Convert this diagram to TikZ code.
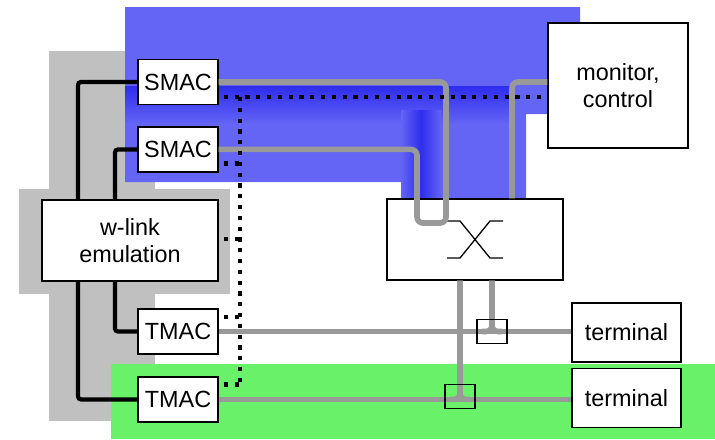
\documentclass[tikz,border=0pt]{standalone}
\usepackage{fontspec}
\setmainfont{Liberation Sans}
\usetikzlibrary{positioning, calc}

\definecolor{cellblue}{RGB}{100,100,245}
\definecolor{glowblue}{RGB}{45,45,238}
\definecolor{fieldgreen}{RGB}{105,242,105}
\definecolor{shadegray}{RGB}{192,192,192}
\definecolor{wiregray}{RGB}{153,153,153}

\begin{document}
\begin{tikzpicture}[
    x=0.5pt, y=-0.5pt,
    font=\fontsize{11.7}{13.6}\selectfont,
    box/.style={rectangle, draw, fill=white, line width=0.7pt, inner sep=0pt, align=center},
    mac/.style={box, minimum width=40pt, minimum height=22.5pt},
    term/.style={box, minimum width=54.5pt, minimum height=29.5pt},
    joint/.style={rectangle, draw, line width=0.65pt, minimum width=15pt, minimum height=12pt, inner sep=0pt},
    wire/.style={wiregray, line width=2.8pt, rounded corners=3pt},
    link/.style={line width=2.1pt, rounded corners=1.5pt},
    ctrl/.style={line width=2.1pt, dash pattern=on 2.1pt off 3.3pt}
]
    \useasboundingbox (0,0) rectangle (715,439);

    % Areas
    \fill[shadegray] (49,51) rectangle (155,421);
    \fill[shadegray] (19,189) rectangle (230,294);
    \fill[cellblue] (125,7) -- (580,7) -- (580,114) -- (526,114) -- (526,199)
        -- (401,199) -- (401,182) -- (125,182) -- cycle;
    \shade[top color=glowblue, bottom color=cellblue] (125,86) rectangle (512,124);
    \shade[left color=cellblue, right color=cellblue, middle color=glowblue] (401,110) rectangle (441,198);
    \fill[fieldgreen] (111,364) rectangle (715,439);

    % Boxes
    \node[mac] (smac1) at (178,82) {SMAC};
    \node[mac, below=10.5pt of smac1] (smac2) {SMAC};
    \node[box, minimum width=88pt, minimum height=40.5pt] (wlink) at (130,240.5) {w-link\\emulation};
    \node[mac] (tmac1) at (178,331.5) {TMAC};
    \node[mac, below=10.75pt of tmac1] (tmac2) {TMAC};
    \node[box, minimum width=70pt, minimum height=62.5pt] (monitor) at (618,85.5) {monitor,\\control};
    \node[box, minimum width=88pt, minimum height=40.5pt] (switch) at (475,239.5) {};
    \node[term] (term1) at (626.5,332.5) {terminal};
    \node[term, below=2.5pt of term1] (term2) {terminal};

    % Switch symbol
    \draw[line width=0.65pt] ($(switch)+(-28,-18.5)$) -- ++(13,0) -- ($(switch)+(15,18.5)$) -- ++(13,0);
    \draw[line width=0.65pt] ($(switch)+(-28,18.5)$) -- ++(13,0) -- ($(switch)+(15,-18.5)$) -- ++(13,0);

    % Wired paths
    \coordinate (u1) at (446,223);
    \coordinate (u2) at (417,223);
    \coordinate (swin) at ($(switch.north)+(37,0)$);
    \coordinate (so1) at ($(switch.south)+(17,0)$);
    \coordinate (so2) at ($(switch.south)+(-15,0)$);
    \coordinate (t1) at (so1 |- tmac1.east);
    \coordinate (t2) at (so2 |- tmac2.east);

    \draw[wire] (smac1.east) -| (u1) -- (u2) |- (smac2.east);
    \draw[wire] ([yshift=1.75pt]monitor.west) -| (swin);
    \draw[wire] (tmac1.east) -- (tmac1.east -| term1.west);
    \draw[wire] (tmac2.east) -- (tmac2.east -| term2.west);
    \draw[wire] (so1) -- (t1) -- ([xshift=-5pt]t1);
    \draw[wire] (so1) -- (t1) -- ([xshift=5pt]t1);
    \draw[wire] (so2) -- (t2) -- ([xshift=-5pt]t2);
    \draw[wire] (so2) -- (t2) -- ([xshift=5pt]t2);
    \node[joint] (j1) at (t1) {};
    \node[joint] (j2) at ([yshift=1.5pt]t2) {};

    % Links to the emulator
    \draw[link] ([xshift=-26pt]wlink.north) |- (smac1.west);
    \draw[link] ([xshift=-7.5pt]wlink.north) |- (smac2.west);
    \draw[link] ([xshift=-7.5pt]wlink.south) |- (tmac1.west);
    \draw[link] ([xshift=-26pt]wlink.south) |- (tmac2.west);

    % Control bus
    \coordinate (bus) at (240,97);
    \coordinate (d1) at ($(smac1.east)+(5,15)$);
    \coordinate (d2) at ($(smac2.east)+(5,14)$);
    \coordinate (d3) at ($(wlink.east)+(5,-1.5)$);
    \coordinate (d4) at ($(tmac1.east)+(5,-14.5)$);
    \coordinate (d5) at ($(tmac2.east)+(5,-15)$);
    \draw[ctrl] (d1) -- (d1 -| monitor.west);
    \draw[ctrl] (bus) -- (bus |- d5);
    \draw[ctrl] (d2) -- (d2 -| bus);
    \draw[ctrl] (d3) -- (d3 -| bus);
    \draw[ctrl] (d4) -- (d4 -| bus);
    \draw[ctrl] (d5) -- (d5 -| bus);
\end{tikzpicture}
\end{document}
